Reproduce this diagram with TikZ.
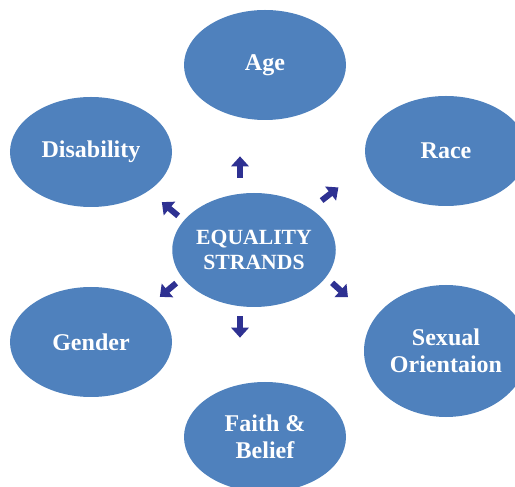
\documentclass[tikz,border=0pt]{standalone}
\usepackage{fontspec}
\setmainfont{Liberation Serif}
\usepackage{xcolor}
\usepackage{tikz}
\usetikzlibrary{arrows.meta,shapes.geometric}
\usetikzlibrary{positioning}

\definecolor{strandblue}{RGB}{79,129,189}
\definecolor{arrownavy}{RGB}{46,49,146}

\begin{document}
\begin{tikzpicture}[-,on grid, semithick]
	\tikzstyle{strand}=[ellipse, fill=strandblue, text=white, inner sep=0pt, minimum width=4.86cm, minimum height=3.3cm, align=center, font=\bfseries\fontsize{20.5}{23}\selectfont]
	\tikzstyle{spoke}=[arrownavy, line width=0.18cm, -{Triangle[length=0.3cm,width=0.52cm]}]
	\useasboundingbox (0,0) rectangle (15.45,14.58);

	\node[strand, minimum height=3.42cm, font=\bfseries\fontsize{18.5}{21.5}\selectfont] (centre) at (7.62,7.08) {EQUALITY\\STRANDS};
	\node[strand] (age) [above=5.55cm of centre, xshift=0.33cm] {Age};
	\node[strand] (disability) [above left=2.94cm and 4.89cm of centre] {Disability};
	\node[strand] (race) [above right=2.97cm and 5.76cm of centre] {Race};
	\node[strand] (gender) [below left=2.76cm and 4.89cm of centre] {Gender};
	\node[strand, minimum width=4.92cm, minimum height=3.96cm] (sexual) [below right=3.03cm and 5.76cm of centre] {Sexual\\Orientaion};
	\node[strand] (faith) [below=5.61cm of centre, xshift=0.33cm] {Faith \&\\Belief};

	% short arrows round the middle
	\foreach \n/\x/\y/\a in {up/7.2/9.57/90, ne/9.9/8.76/38, nw/5.1/8.31/140, sw/5.04/5.88/220, se/10.2/5.88/318, down/7.2/4.77/270}{
		\path (\x,\y) ++(\a+180:0.32) coordinate (\n-tail) ++(\a:0.64) coordinate (\n-tip);
		\draw[spoke] (\n-tail) -- (\n-tip);
	}
\end{tikzpicture}
\end{document}
